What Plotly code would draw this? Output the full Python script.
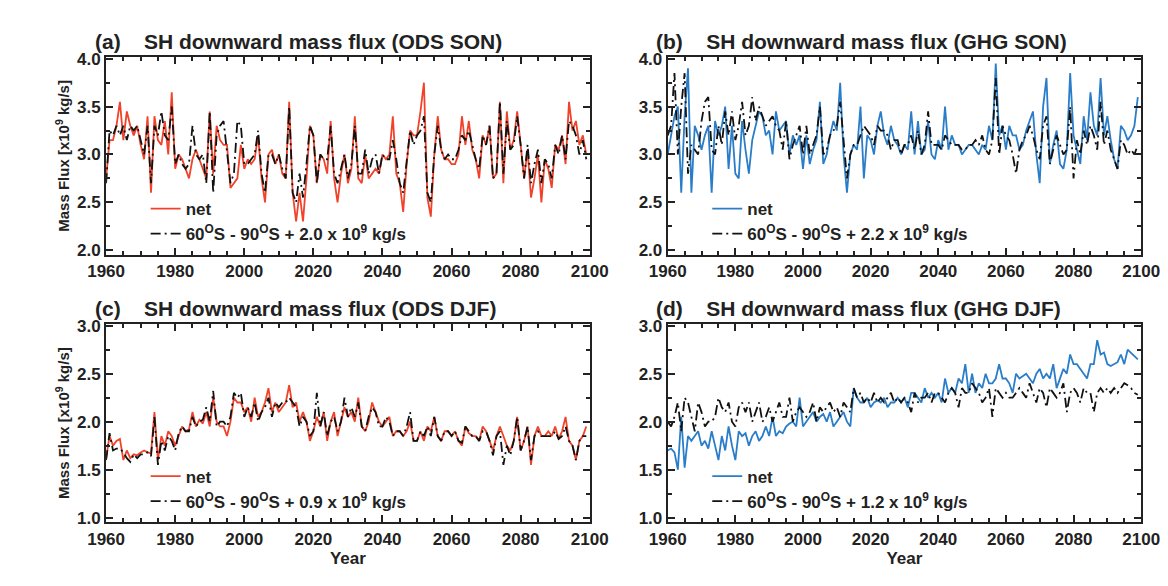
import plotly.graph_objects as go

years = list(range(1960, 2100))

# (a) ODS SON
ods_son_net = [2.75,3.15,3.15,3.3,3.55,3.15,3.45,3.3,3.2,3.3,
               3.1,2.95,3.4,2.6,3.4,3.15,3.1,3.35,3.0,3.65,
               2.85,3.0,2.95,2.85,2.75,2.95,3.05,2.95,2.85,2.75,
               3.45,2.8,3.3,3.15,3.1,3.1,2.65,2.7,2.75,3.1,
               2.85,2.95,2.9,2.95,3.2,2.75,2.5,3.0,3.05,2.9,
               3.0,2.8,2.75,3.55,2.6,2.3,2.6,2.3,2.75,3.3,
               3.2,2.7,3.0,2.95,2.8,3.35,2.75,2.5,2.8,3.0,
               2.7,2.85,3.4,2.75,2.7,3.0,2.75,2.8,2.85,2.8,
               3.0,2.95,3.0,3.4,2.8,2.7,2.4,2.9,3.25,3.2,
               3.2,3.45,3.75,2.55,2.35,3.0,3.4,3.05,2.95,2.95,
               2.9,2.9,3.0,3.4,3.1,3.35,3.05,2.95,2.75,3.2,
               3.1,3.3,2.75,2.8,3.55,2.7,3.45,3.05,3.15,3.45,
               3.1,2.75,3.05,2.55,2.75,3.0,2.5,2.95,2.85,2.65,
               3.1,3.05,3.2,2.9,3.55,3.25,3.35,3.1,3.2,3.0]
ods_son_polar = [2.7,3.25,3.2,3.3,3.2,3.3,3.15,3.3,3.25,3.3,
                 3.15,3.0,3.3,2.7,3.3,3.2,3.45,3.2,3.15,3.5,
                 2.9,3.0,2.9,2.85,2.9,3.3,3.0,2.95,3.0,2.7,
                 3.45,2.6,3.2,3.3,3.35,3.0,2.7,2.8,3.35,3.3,
                 2.9,2.9,2.95,3.0,3.25,2.8,2.6,3.0,3.0,2.9,
                 3.0,2.85,2.75,3.5,2.6,2.5,2.8,2.55,2.9,3.3,
                 3.2,2.7,3.0,2.95,2.95,3.3,2.8,2.7,2.85,3.0,
                 2.75,2.9,3.3,2.8,2.8,3.05,2.8,2.95,3.0,2.8,
                 3.0,2.95,2.95,3.15,2.95,2.7,2.6,2.9,3.25,3.1,
                 3.2,3.25,3.4,2.6,2.5,3.0,3.3,3.05,2.95,3.0,
                 2.95,2.95,3.05,3.2,3.15,3.25,3.1,2.95,2.85,3.2,
                 3.1,3.3,2.75,2.8,3.55,2.8,3.35,3.05,3.1,3.4,
                 3.1,2.75,3.1,2.7,2.9,3.05,2.7,2.95,2.9,2.75,
                 3.1,3.0,3.2,2.95,3.35,3.3,3.2,3.0,3.15,2.95]

# (b) GHG SON
ghg_son_net = [3.0,3.2,3.4,3.5,2.6,3.4,3.9,2.6,3.3,3.2,
               3.05,3.2,3.3,2.6,3.35,3.2,3.3,3.5,2.85,3.3,
               2.8,2.75,3.35,3.05,2.8,3.15,3.3,3.45,3.4,3.2,
               3.25,3.0,3.45,3.25,3.3,3.35,3.0,3.2,3.1,3.2,
               2.85,3.2,2.9,3.05,3.15,3.55,2.9,3.0,3.2,3.35,
               3.25,3.75,3.0,2.6,3.0,3.1,3.05,3.5,2.75,3.2,
               3.15,3.0,3.3,3.45,3.2,3.1,3.3,3.15,3.1,3.0,
               3.1,3.05,3.45,3.0,3.35,3.0,3.05,3.35,3.0,2.95,
               3.15,3.05,3.5,3.05,3.2,3.1,3.1,3.0,3.05,3.1,
               3.1,3.05,3.0,3.1,3.05,3.3,3.15,3.95,3.2,3.3,
               3.05,3.3,3.2,3.2,3.05,3.1,3.25,3.35,3.45,3.0,
               2.7,3.5,3.8,2.9,3.1,3.25,2.9,2.85,3.05,3.85,
               3.2,3.05,2.9,3.4,3.15,3.65,3.3,3.2,3.8,3.2,
               3.4,3.15,2.95,2.85,3.3,3.25,3.15,3.2,3.3,3.6]
ghg_son_polar = [3.2,3.3,3.85,3.0,3.5,3.85,2.8,3.1,3.05,3.0,
                 3.35,3.55,3.6,3.05,3.0,3.3,3.1,3.45,3.2,3.45,
                 3.15,3.3,3.55,3.2,3.3,3.6,3.35,3.5,3.4,3.3,
                 3.35,3.4,3.3,3.25,3.05,3.35,2.95,3.1,3.2,3.3,
                 3.0,3.3,3.0,3.1,3.2,3.5,3.0,3.05,3.2,3.25,
                 3.3,3.55,3.1,2.75,3.0,3.1,3.1,3.2,3.3,3.25,
                 3.2,3.1,3.3,3.25,3.25,3.2,3.05,3.15,3.15,3.0,
                 3.1,3.1,3.2,3.05,3.25,3.0,3.1,3.45,3.1,3.1,
                 3.1,3.05,3.2,3.15,3.1,3.1,3.1,3.05,3.05,3.1,
                 3.1,3.15,3.1,3.2,3.05,3.0,3.15,3.8,3.0,3.3,
                 3.2,3.15,3.0,2.8,3.05,3.15,3.2,3.3,3.2,3.05,
                 2.95,3.3,3.4,2.9,3.05,3.2,3.1,3.0,3.05,3.5,
                 2.75,3.15,3.0,3.25,3.1,3.3,3.2,3.05,3.55,3.1,
                 3.25,3.05,2.95,2.85,3.15,3.1,3.0,3.05,3.0,3.1]

# (c) ODS DJF
ods_djf_net = [1.62,1.85,1.75,1.8,1.82,1.6,1.7,1.62,1.66,1.65,
               1.68,1.7,1.68,1.67,2.1,1.6,1.85,1.75,1.9,1.85,
               1.75,1.85,1.95,1.9,1.92,2.1,1.95,2.02,1.98,2.1,
               1.95,2.25,2.0,1.95,1.95,1.85,2.0,2.25,2.2,2.2,
               2.1,2.15,2.0,2.25,2.05,2.1,2.2,2.35,2.1,2.2,
               2.1,2.15,2.2,2.38,2.15,2.2,2.0,2.1,2.0,1.8,
               1.9,2.05,1.95,2.1,1.8,2.0,2.1,1.85,2.0,2.15,
               2.05,2.1,2.0,2.25,1.95,1.9,2.0,2.2,2.1,2.0,
               1.95,2.0,2.05,1.85,1.9,1.9,1.85,1.9,2.0,1.8,
               1.8,1.9,1.8,1.95,1.9,2.05,1.85,1.8,1.9,1.9,
               1.85,1.9,1.8,1.75,1.95,1.88,1.85,1.85,1.8,1.95,
               1.9,1.8,1.7,1.85,1.95,1.85,1.75,1.7,1.8,2.05,
               1.7,1.8,1.95,1.55,1.85,1.95,1.85,1.85,1.9,1.85,
               1.95,1.82,1.9,2.05,1.8,1.75,1.6,1.8,1.85,1.95]
ods_djf_polar = [1.6,1.88,1.7,1.72,1.72,1.68,1.62,1.58,1.66,1.62,
                 1.66,1.66,1.68,1.64,2.05,1.55,1.8,1.7,1.85,1.8,
                 1.7,1.88,1.95,1.9,1.9,2.05,1.95,2.0,2.02,2.15,
                 2.0,2.32,1.95,2.0,2.0,1.95,2.05,2.3,2.25,2.3,
                 2.05,2.15,2.05,2.2,2.0,2.1,2.15,2.25,2.05,2.2,
                 2.15,2.2,2.2,2.25,2.2,2.15,1.95,2.05,2.0,1.85,
                 1.9,2.3,1.95,2.1,1.85,2.0,2.05,1.9,2.0,2.25,
                 2.05,2.15,2.05,2.2,1.95,1.9,2.05,2.15,2.1,1.95,
                 1.95,2.05,2.0,1.85,1.9,1.9,1.85,1.95,2.1,1.8,
                 1.8,1.9,1.85,1.95,1.85,2.05,1.85,1.8,1.9,1.9,
                 1.85,1.9,1.8,1.78,1.95,1.9,1.85,1.85,1.8,1.9,
                 1.9,1.8,1.65,1.85,1.9,1.55,1.75,1.65,1.8,2.05,
                 1.7,1.8,1.95,1.6,1.85,1.9,1.85,1.85,1.85,1.85,
                 1.9,1.82,1.85,1.95,1.8,1.75,1.6,1.8,1.85,1.85]

# (d) GHG DJF
ghg_djf_net = [1.7,1.72,1.68,1.5,2.05,1.52,1.85,1.8,1.85,1.9,
               1.75,1.8,1.72,1.9,1.75,1.6,1.85,1.7,1.95,1.75,
               1.6,1.9,1.85,1.88,1.75,1.85,1.9,1.8,1.85,1.95,
               1.85,2.05,1.85,1.9,1.88,1.95,1.98,2.0,1.95,2.25,
               1.95,2.0,2.05,2.1,2.0,2.05,2.08,2.0,2.1,1.95,
               2.0,2.05,2.1,2.0,1.95,2.35,2.25,2.2,2.2,2.25,
               2.15,2.2,2.22,2.2,2.25,2.15,2.2,2.2,2.25,2.2,
               2.25,2.15,2.3,2.3,2.25,2.2,2.35,2.25,2.3,2.25,
               2.3,2.2,2.45,2.3,2.35,2.3,2.45,2.4,2.6,2.3,
               2.5,2.3,2.4,2.35,2.5,2.4,2.4,2.45,2.6,2.45,
               2.45,2.4,2.3,2.5,2.45,2.48,2.5,2.45,2.4,2.5,
               2.55,2.45,2.5,2.45,2.6,2.35,2.45,2.55,2.5,2.7,
               2.6,2.6,2.55,2.5,2.45,2.6,2.6,2.85,2.7,2.72,
               2.6,2.58,2.6,2.62,2.7,2.6,2.75,2.72,2.68,2.65]
ghg_djf_polar = [2.0,1.95,2.05,2.2,1.9,2.25,2.2,2.05,1.9,2.2,
                 2.1,1.95,2.0,2.0,2.05,2.25,2.15,2.1,2.2,2.0,
                 1.95,2.15,2.2,2.1,2.2,2.0,2.1,2.2,2.0,2.05,
                 2.15,2.0,2.1,2.2,2.05,2.05,2.25,2.0,2.1,2.15,
                 2.1,2.05,2.1,2.2,2.0,2.15,2.1,2.15,2.2,2.1,
                 2.15,2.05,2.2,2.15,2.1,2.35,2.25,2.3,2.2,2.25,
                 2.2,2.3,2.2,2.25,2.2,2.25,2.3,2.2,2.25,2.2,
                 2.25,2.2,2.1,2.3,2.2,2.25,2.25,2.3,2.2,2.3,
                 2.3,2.25,2.2,2.3,2.35,2.3,2.15,2.35,2.3,2.3,
                 2.4,2.35,2.3,2.2,2.25,2.35,2.05,2.35,2.3,2.25,
                 2.3,2.25,2.25,2.3,2.35,2.3,2.25,2.4,2.3,2.2,
                 2.35,2.3,2.15,2.35,2.3,2.25,2.3,2.4,2.1,2.3,
                 2.35,2.3,2.2,2.35,2.3,2.3,2.1,2.3,2.35,2.3,
                 2.35,2.3,2.35,2.3,2.35,2.4,2.38,2.35,2.3,2.28]

titles = ["(a)    SH downward mass flux (ODS SON)",
          "(b)    SH downward mass flux (GHG SON)",
          "(c)    SH downward mass flux (ODS DJF)",
          "(d)    SH downward mass flux (GHG DJF)"]
offsets = ["2.0", "2.2", "0.9", "1.2"]
y_ranges = [[1.95, 4.02], [1.95, 4.02], [0.95, 3.02], [0.95, 3.02]]
y_ticks = [[2.0, 2.5, 3.0, 3.5, 4.0], [2.0, 2.5, 3.0, 3.5, 4.0],
           [1.0, 1.5, 2.0, 2.5, 3.0], [1.0, 1.5, 2.0, 2.5, 3.0]]

RED = "#f0432a"
BLUE = "#2a7dc8"
panels = [(ods_son_net, ods_son_polar, RED), (ghg_son_net, ghg_son_polar, BLUE),
          (ods_djf_net, ods_djf_polar, RED), (ghg_djf_net, ghg_djf_polar, BLUE)]

xdom = [[0.070, 0.498], [0.567, 0.986]]
ydom = [[0.582, 0.927], [0.116, 0.462]]

fig = go.Figure()
font = dict(family="Liberation Sans", size=17, color="#222", weight="bold")
axis_common = dict(showline=True, linecolor="#222", linewidth=2, mirror="ticks",
                   ticks="inside", ticklen=7, tickwidth=1.5, tickcolor="#222",
                   showgrid=False, zeroline=False, tickfont=font)

for i, (net, polar, col) in enumerate(panels):
    n = i + 1
    sfx = "" if n == 1 else str(n)
    leg = "legend" if n == 1 else "legend" + str(n)
    fig.add_trace(go.Scatter(x=years, y=net, mode="lines", name="net",
                             line=dict(color=col, width=1.8),
                             xaxis="x" + sfx, yaxis="y" + sfx, legend=leg))
    fig.add_trace(go.Scatter(x=years, y=polar, mode="lines",
                             name="60<sup>O</sup>S - 90<sup>O</sup>S + " + offsets[i] + " x 10<sup>9</sup> kg/s",
                             line=dict(color="#111", width=1.8, dash="10px,4px,2px,4px"),
                             xaxis="x" + sfx, yaxis="y" + sfx, legend=leg))
    r, c = divmod(i, 2)
    xa = dict(axis_common, domain=xdom[c], range=[1960, 2100], dtick=20, anchor="y" + sfx,
              minor=dict(dtick=5, ticks="inside", ticklen=4, tickcolor="#222"))
    if r == 1:
        xa["title"] = dict(text="Year", font=font, standoff=0)
    ya = dict(axis_common, domain=ydom[r], range=y_ranges[i], tickvals=y_ticks[i],
              ticktext=["%.1f" % v for v in y_ticks[i]], anchor="x" + sfx,
              minor=dict(dtick=0.25, ticks="inside", ticklen=4, tickcolor="#222"))
    if c == 0:
        ya["title"] = dict(text="Mass Flux [x10<sup>9</sup> kg/s]",
                           font=dict(font, size=15), standoff=4)
    fig.layout["xaxis" + sfx] = xa
    fig.layout["yaxis" + sfx] = ya
    fig.layout[leg] = dict(x=xdom[c][0] + 0.035, y=ydom[r][0] + 0.005, xanchor="left",
                           yanchor="bottom", bgcolor="rgba(0,0,0,0)", tracegroupgap=0,
                           font=dict(family="Liberation Sans", size=17, color="#222", weight="bold"))
    fig.add_annotation(text=titles[i], x=xdom[c][0] - 0.012, y=ydom[r][1] + 0.003,
                       xref="paper", yref="paper", xanchor="left", yanchor="bottom",
                       showarrow=False,
                       font=dict(family="Liberation Sans", size=21, color="#222", weight="bold"))

fig.update_layout(width=1168, height=586, margin=dict(l=0, r=0, t=0, b=0),
                  plot_bgcolor="white", paper_bgcolor="white", showlegend=True)
fig.write_html("out.html")
